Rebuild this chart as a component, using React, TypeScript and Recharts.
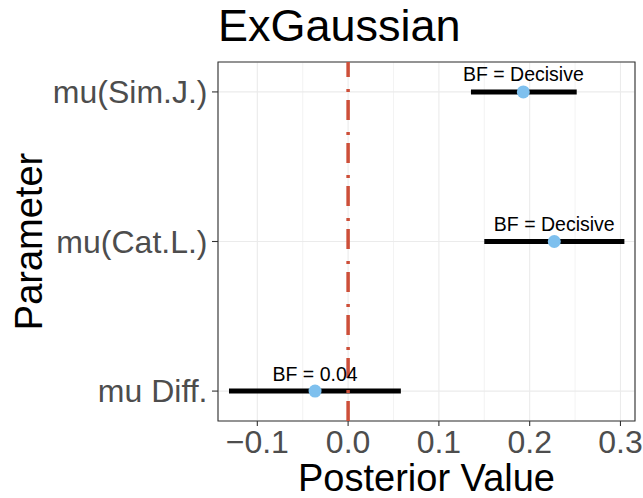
import React from 'react';
import {
  ScatterChart,
  Scatter,
  XAxis,
  YAxis,
  CartesianGrid,
  ReferenceArea,
  ErrorBar,
} from 'recharts';

const PARAMS = ['mu Diff.', 'mu(Cat.L.)', 'mu(Sim.J.)'];
const MEDIANS = [-0.0364, 0.2271, 0.193];
const LOWER = [-0.1312, 0.15, 0.1353];
const UPPER = [0.0581, 0.3043, 0.2518];
const BF_LABELS = ['BF = 0.04', 'BF = Decisive', 'BF = Decisive'];

const X_TICKS = [-0.1, 0, 0.1, 0.2, 0.3];
const X_MINOR = [-0.05, 0.05, 0.15, 0.25];
const X_DOMAIN: [number, number] = [-0.1433, 0.316];
const Y_DOMAIN: [number, number] = [-0.2, 2.2];
const ZERO_LINE = [
  { est: 0, row: Y_DOMAIN[0] },
  { est: 0, row: Y_DOMAIN[1] },
];

const FONT = '"Liberation Sans", Arial, Helvetica, sans-serif';

const data = PARAMS.map((name, i) => ({
  row: i,
  name,
  est: MEDIANS[i],
  err: [MEDIANS[i] - LOWER[i], UPPER[i] - MEDIANS[i]],
  bf: BF_LABELS[i],
}));

const PointShape = (props: any) => {
  const { cx, cy, payload } = props;
  return (
    <g>
      <circle cx={cx} cy={cy} r={6.5} fill="#7EC0EE" />
      <text
        x={cx}
        y={cy - 10.5}
        textAnchor="middle"
        fontSize={19.5}
        fontFamily={FONT}
        fill="#000"
      >
        {payload.bf}
      </text>
    </g>
  );
};

const YTitle = (props: any) => {
  const vb = props.viewBox || { x: 0, y: 62, width: 218, height: 359 };
  const cx = 41.7;
  const cy = vb.y + vb.height / 2;
  return (
    <text
      x={cx}
      y={cy}
      transform={`rotate(-90, ${cx}, ${cy})`}
      textAnchor="middle"
      fontSize={38}
      fontFamily={FONT}
      fill="#000"
    >
      Parameter
    </text>
  );
};

const noShape = () => <g />;

export default function App() {
  return (
    <div style={{ position: 'absolute', left: 0, top: 0, width: 643, height: 498, background: '#fff' }}>
      <div
        style={{
          position: 'absolute',
          left: 218,
          top: 3,
          fontSize: 45,
          lineHeight: '45px',
          fontFamily: FONT,
          color: '#000',
          whiteSpace: 'nowrap',
        }}
      >
        ExGaussian
      </div>
      <ScatterChart width={643} height={498} margin={{ top: 62, right: 8, bottom: 0, left: 0 }}>
        <CartesianGrid stroke="#EBEBEB" strokeWidth={1.1} />
        <CartesianGrid xAxisId="minor" horizontal={false} stroke="#EBEBEB" strokeWidth={0.6} />
        <XAxis
          type="number"
          dataKey="est"
          domain={X_DOMAIN}
          ticks={X_TICKS}
          allowDataOverflow
          height={77}
          axisLine={false}
          tickSize={5}
          tickMargin={4.5}
          tickLine={{ stroke: '#333333', strokeWidth: 1.1 }}
          tick={{ fontSize: 32, fill: '#4D4D4D', fontFamily: FONT }}
          tickFormatter={(v: number) => (v < 0 ? '\u2212' + Math.abs(v).toFixed(1) : v.toFixed(1))}
          label={{
            value: 'Posterior Value',
            position: 'insideBottom',
            offset: 7,
            fontSize: 38,
            fill: '#000',
            fontFamily: FONT,
          }}
        />
        <XAxis
          xAxisId="minor"
          type="number"
          dataKey="est"
          domain={X_DOMAIN}
          ticks={X_MINOR}
          allowDataOverflow
          hide
        />
        <YAxis
          type="number"
          dataKey="row"
          domain={Y_DOMAIN}
          ticks={[0, 1, 2]}
          allowDataOverflow
          width={218}
          axisLine={false}
          tickSize={6}
          tickMargin={4.5}
          tickLine={{ stroke: '#333333', strokeWidth: 1.1 }}
          tick={{ fontSize: 32, fill: '#4D4D4D', fontFamily: FONT }}
          tickFormatter={(v: number) => PARAMS[v] ?? ''}
          label={{ value: 'Parameter', content: YTitle }}
        />
        <Scatter
          data={ZERO_LINE}
          line={{ stroke: '#CD4F39', strokeWidth: 3.5, strokeDasharray: '20 8 3 12' }}
          shape={noShape}
          isAnimationActive={false}
        />
        <Scatter data={data} shape={PointShape} isAnimationActive={false}>
          <ErrorBar dataKey="err" direction="x" width={0} stroke="#000" strokeWidth={5} />
        </Scatter>
        <ReferenceArea
          x1={X_DOMAIN[0]}
          x2={X_DOMAIN[1]}
          y1={Y_DOMAIN[0]}
          y2={Y_DOMAIN[1]}
          fill="none"
          stroke="#333333"
          strokeWidth={1.1}
        />
      </ScatterChart>
    </div>
  );
}
